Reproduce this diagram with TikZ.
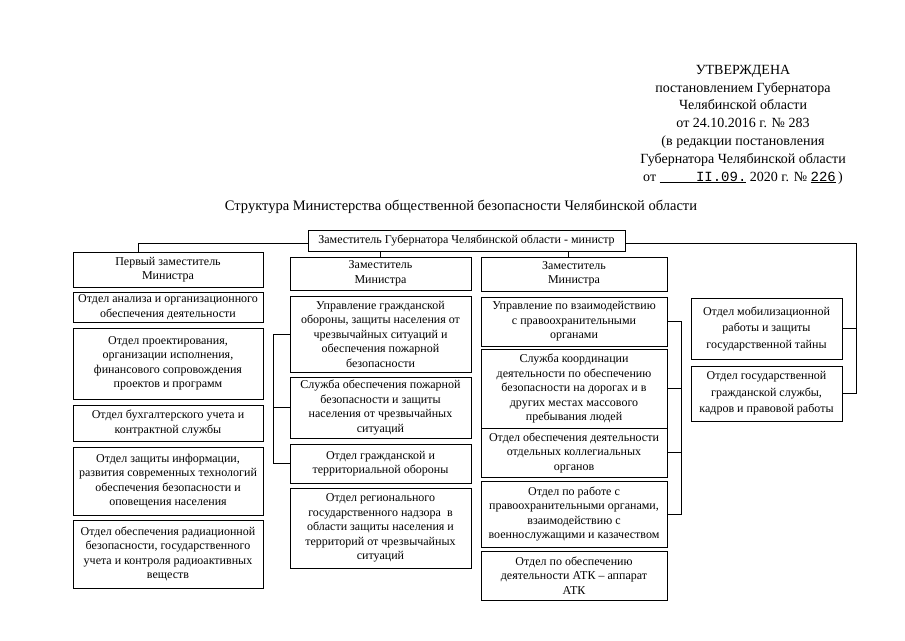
\documentclass[tikz,border=0pt]{standalone}
\usepackage{fontspec}
\setmainfont{Liberation Serif}
\newfontfamily\stampfont{Liberation Mono}
\usetikzlibrary{calc}

\tikzset{
  orgbox/.style={draw, line width=0.8pt, align=center, inner sep=1pt,
    font=\fontsize{12}{14.5}\selectfont},
  colL/.style={orgbox, minimum width=190pt},
  colM/.style={orgbox, minimum width=181pt},
  colR/.style={orgbox, minimum width=186pt},
  colF/.style={orgbox, minimum width=151pt, font=\fontsize{12}{16.5}\selectfont},
  link/.style={line width=0.8pt}
}

\begin{document}
\begin{tikzpicture}[x=1pt, y=-1pt]
  \useasboundingbox (0,0) rectangle (905,640);

  % Approval stamp
  \node[align=center, font=\fontsize{14}{17.8}\selectfont] (approved) at (743,124.5)
    {УТВЕРЖДЕНА\\постановлением Губернатора\\Челябинской области\\от 24.10.2016 г. № 283\\(в редакции постановления\\Губернатора Челябинской области\\от \underline{\hspace{2.6em}{\stampfont II.09.}} 2020 г. № \underline{\stampfont 226}\,)};

  % Title
  \node[font=\fontsize{14.5}{17}\selectfont] (title) at (461,207)
    {Структура Министерства общественной безопасности Челябинской области};

  % Head of the ministry
  \node[orgbox, minimum width=317pt, minimum height=21pt] (T) at (466.5,240.5)
    {Заместитель Губернатора Челябинской области - министр};

  % Left column
  \node[colL, minimum height=35pt] (L0) at (168,269.5) {Первый заместитель\\Министра};
  \node[colL, minimum height=30pt] (L1) at (168,307) {Отдел анализа и организационного\\обеспечения деятельности};
  \node[colL, minimum height=71pt] (L2) at (168,363.5) {Отдел проектирования,\\организации исполнения,\\финансового сопровождения\\проектов и программ};
  \node[colL, minimum height=36pt] (L3) at (168,423) {Отдел бухгалтерского учета и\\контрактной службы};
  \node[colL, minimum height=68pt] (L4) at (168,481) {Отдел защиты информации,\\развития современных технологий\\обеспечения безопасности и\\оповещения населения};
  \node[colL, minimum height=68pt] (L5) at (168,554) {Отдел обеспечения радиационной\\безопасности, государственного\\учета и контроля радиоактивных\\веществ};

  % Middle column
  \node[colM, minimum height=33pt] (M0) at (380.5,273.5) {Заместитель\\Министра};
  \node[colM, minimum height=76pt] (M1) at (380.5,334) {Управление гражданской\\обороны, защиты населения от\\чрезвычайных ситуаций и\\обеспечения пожарной\\безопасности};
  \node[colM, minimum height=61pt] (M2) at (380.5,407.5) {Служба обеспечения пожарной\\безопасности и защиты\\населения от чрезвычайных\\ситуаций};
  \node[colM, minimum height=39pt] (M3) at (380.5,463.5) {Отдел гражданской и\\территориальной обороны};
  \node[colM, minimum height=80pt] (M4) at (380.5,528) {Отдел регионального\\государственного надзора~ в\\области защиты населения и\\территорий от чрезвычайных\\ситуаций};

  % Right column
  \node[colR, minimum height=34pt] (R0) at (574,274) {Заместитель\\Министра};
  \node[colR, minimum height=49pt] (R1) at (574,321.5) {Управление по взаимодействию\\с правоохранительными\\органами};
  \node[colR, minimum height=79pt] (R2) at (574,388.5) {Служба координации\\деятельности по обеспечению\\безопасности на дорогах и в\\других местах массового\\пребывания людей};
  \node[colR, minimum height=49pt] (R3) at (574,452.5) {Отдел обеспечения деятельности\\отдельных коллегиальных\\органов};
  \node[colR, minimum height=66pt] (R4) at (574,514) {Отдел по работе с\\правоохранительными органами,\\взаимодействию с\\военнослужащими и казачеством};
  \node[colR, minimum height=49pt] (R5) at (574,575.5) {Отдел по обеспечению\\деятельности АТК – аппарат\\АТК};

  % Far right column
  \node[colF, minimum height=61pt] (F1) at (766.5,328.5) {Отдел мобилизационной\\работы и защиты\\государственной тайны};
  \node[colF, minimum height=55pt] (F2) at (766.5,393.5) {Отдел государственной\\гражданской службы,\\кадров и правовой работы};

  % Lines from the head
  \draw[link] ([yshift=-3pt]T.west) -| ([xshift=66pt]L0.north west);
  \draw[link] (M0.north |- T.south) -- (M0.north);
  \coordinate (rtick) at ([xshift=-6pt]R0.north);
  \draw[link] (rtick |- T.south) -- (rtick);
  \coordinate (rbus) at (856,250);
  \draw[link] ([yshift=-3pt]T.east) -| (rbus |- F2.east) -- (F2.east);
  \draw[link] (F1.east) -- (F1.east -| rbus);

  % Bracket left of middle column
  \coordinate (mbus) at (273,334);
  \draw[link] (M1.west) -| (mbus |- M3.west) -- (M3.west);
  \draw[link] (M2.west) -- (M2.west -| mbus);

  % Bracket right of right column
  \coordinate (rbrk) at (681,320);
  \draw[link] (R1.east) -| (rbrk |- R4.east) -- (R4.east);
  \draw[link] (R2.east) -- (R2.east -| rbrk);
  \draw[link] (R3.east) -- (R3.east -| rbrk);
\end{tikzpicture}
\end{document}
